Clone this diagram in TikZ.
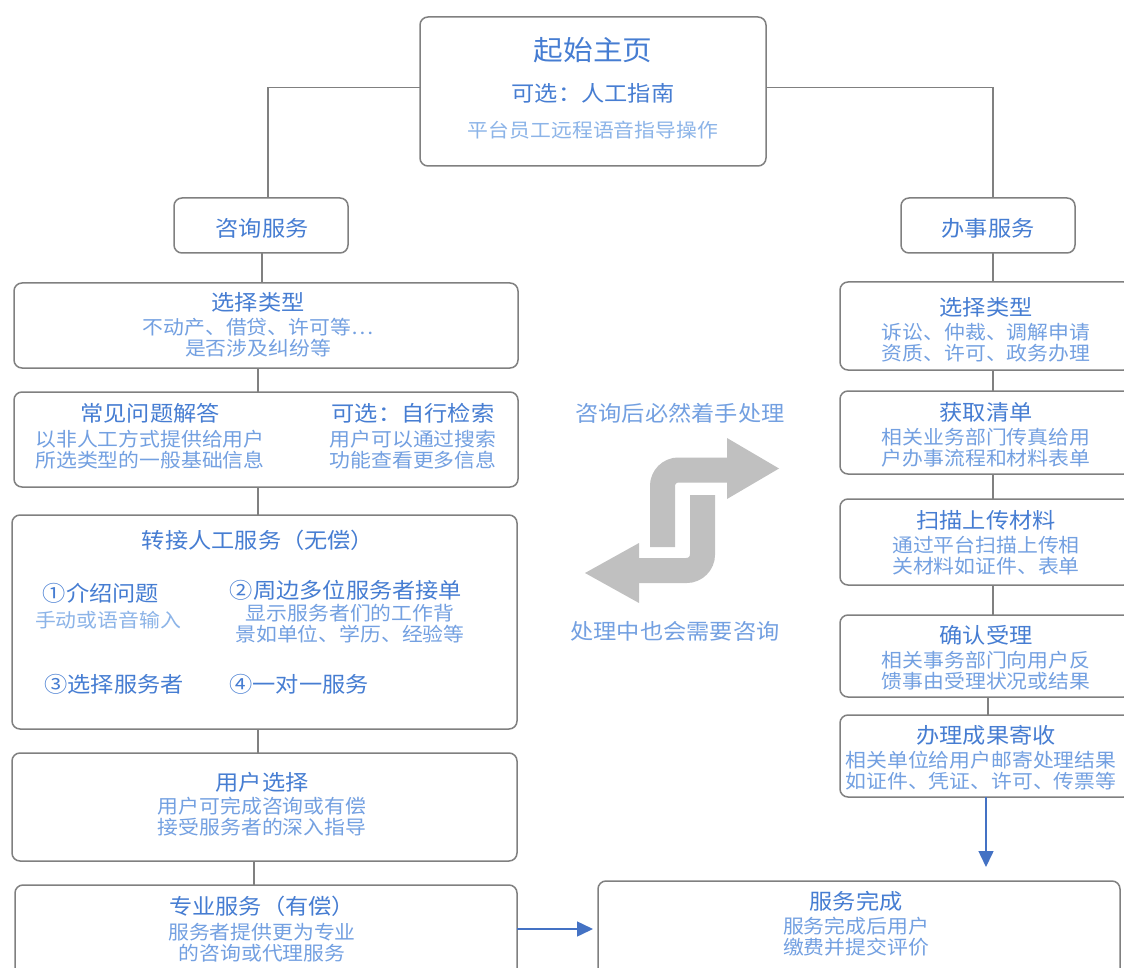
\documentclass[tikz,border=0pt]{standalone}
\usepackage{fontspec}
\setmainfont{Noto Sans CJK SC}[FakeStretch=1.08]
\usetikzlibrary{arrows.meta}
\definecolor{bordercol}{RGB}{128,128,128}
\definecolor{titlecol}{RGB}{70,125,210}
\definecolor{subcol}{RGB}{115,160,225}
\definecolor{palecol}{RGB}{140,180,232}
\definecolor{arrowblue}{RGB}{68,114,196}
\definecolor{sgray}{RGB}{192,192,192}
\newcommand\fTitle{\fontsize{21.5}{24}\selectfont}
\newcommand\fSub{\fontsize{19.3}{21}\selectfont}
\newcommand\fBig{\fontsize{27.5}{30}\selectfont}
\tikzset{
  box/.style={draw=bordercol, line width=1.5pt, rounded corners=8pt, fill=white,
    anchor=north west, inner sep=0pt, outer sep=0pt},
  ttl/.style={text=titlecol, font=\fTitle, inner sep=0pt, align=center},
  sub/.style={text=subcol, font=\fSub, inner sep=0pt, align=center},
  conn/.style={draw=bordercol, line width=1.5pt},
  bluearrow/.style={draw=arrowblue, line width=1.5pt, -{Triangle[length=16pt,width=15pt]}},
  sarrow/.style={draw=sgray, line width=25pt, rounded corners=16pt},
  shead/.style={fill=sgray, draw=none}
}
\begin{document}
\begin{tikzpicture}[x=1pt,y=-1pt]
\useasboundingbox (0,0) rectangle (1124,968);
\clip (0,0) rectangle (1124,968);
\fill[white] (0,0) rectangle (1124,968);

% ---- boxes ----
\node[box, minimum width=346pt, minimum height=149pt] (top) at (420,17) {};
\node[box, minimum width=174pt, minimum height=55pt] (zx) at (174,198) {};
\node[box, minimum width=174pt, minimum height=55pt] (bs) at (901,198) {};

\node[box, minimum width=504pt, minimum height=85pt] (L1) at (14,283) {};
\node[box, minimum width=504pt, minimum height=95pt] (L2) at (14,392) {};
\node[box, minimum width=505pt, minimum height=214pt] (L3) at (12,515) {};
\node[box, minimum width=505pt, minimum height=108pt] (L4) at (12,753) {};
\node[box, minimum width=502pt, minimum height=110pt] (L5) at (15,885) {};

\node[box, minimum width=292pt, minimum height=88pt] (R1) at (840,282) {};
\node[box, minimum width=292pt, minimum height=83pt] (R2) at (840,391) {};
\node[box, minimum width=292pt, minimum height=86pt] (R3) at (840,499) {};
\node[box, minimum width=292pt, minimum height=82pt] (R4) at (840,615) {};
\node[box, minimum width=292pt, minimum height=82pt] (R5) at (840,715) {};

\node[box, minimum width=522pt, minimum height=110pt] (done) at (598,881) {};

% ---- connectors ----
\draw[conn] ([yshift=4pt]top.west) -| ([xshift=7pt]zx.north);
\draw[conn] ([yshift=4pt]top.east) -| ([xshift=5pt]bs.north);
\draw[conn] ([xshift=1pt]zx.south) -- ([xshift=1pt]zx.south |- L1.north);
\draw[conn] ([xshift=-8pt]L1.south) -- ([xshift=-8pt]L1.south |- L2.north);
\draw[conn] ([xshift=-8pt]L2.south) -- ([xshift=-8pt]L2.south |- L3.north);
\draw[conn] ([xshift=-6.5pt]L3.south) -- ([xshift=-6.5pt]L3.south |- L4.north);
\draw[conn] ([xshift=-10.5pt]L4.south) -- ([xshift=-10.5pt]L4.south |- L5.north);
\draw[conn] ([xshift=5pt]bs.south) -- ([xshift=5pt]bs.south |- R1.north);
\draw[conn] ([xshift=7pt]R1.south) -- ([xshift=7pt]R1.south |- R2.north);
\draw[conn] ([xshift=7pt]R2.south) -- ([xshift=7pt]R2.south |- R3.north);
\draw[conn] ([xshift=7pt]R3.south) -- ([xshift=7pt]R3.south |- R4.north);
\draw[conn] ([xshift=2pt]R4.south) -- ([xshift=2pt]R4.south |- R5.north);

\coordinate (vEnd) at (986,867);
\coordinate (hEnd) at (593,929);
\draw[bluearrow] (R5.south -| vEnd) -- (vEnd);
\draw[bluearrow] (L5.east |- hEnd) -- (hEnd);

% ---- texts ----
\node[text=titlecol, font=\fBig, inner sep=0pt] (t1) at (593,50) {起始主页};
\node[ttl] (t2) at (593,93) {可选：人工指南};
\node[text=palecol, font=\fSub, inner sep=0pt] (t3) at (593,130) {平台员工远程语音指导操作};

\node[ttl] (zxT) at (262,228) {咨询服务};
\node[ttl] (bsT) at (988,228) {办事服务};

\node[ttl] (L1T) at (258,302) {选择类型};
\node[sub] (L1S) at (258,338) {不动产、借贷、许可等…\\是否涉及纠纷等};

\node[ttl] (L2T) at (150,413) {常见问题解答};
\node[sub] (L2S) at (150,450) {以非人工方式提供给用户\\所选类型的一般基础信息};
\node[ttl] (L2T2) at (413,413) {可选：自行检索};
\node[sub] (L2S2) at (413,450) {用户可以通过搜索\\功能查看更多信息};

\node[ttl] (L3T) at (258,540) {转接人工服务（无偿）};
\node[ttl] (L3a) at (101,593) {①介绍问题};
\node[sub, text=palecol] (L3aS) at (108,620) {手动或语音输入};
\node[ttl] (L3b) at (346,590) {②周边多位服务者接单};
\node[sub] (L3bS) at (350,624) {显示服务者们的工作背\\景如单位、学历、经验等};
\node[ttl] (L3c) at (114,684) {③选择服务者};
\node[ttl] (L3d) at (299,684) {④一对一服务};

\node[ttl] (L4T) at (262,782) {用户选择};
\node[sub] (L4S) at (262,817) {用户可完成咨询或有偿\\接受服务者的深入指导};

\node[ttl] (L5T) at (262,906) {专业服务（有偿）};
\node[sub] (L5S) at (262,943) {服务者提供更为专业\\的咨询或代理服务};

\node[ttl] (R1T) at (986,307) {选择类型};
\node[sub] (R1S) at (986,343) {诉讼、仲裁、调解申请\\资质、许可、政务办理};
\node[ttl] (R2T) at (986,412) {获取清单};
\node[sub] (R2S) at (986,448) {相关业务部门传真给用\\户办事流程和材料表单};
\node[ttl] (R3T) at (986,520) {扫描上传材料};
\node[sub] (R3S) at (986,556) {通过平台扫描上传相\\关材料如证件、表单};
\node[ttl] (R4T) at (986,635) {确认受理};
\node[sub] (R4S) at (986,671) {相关事务部门向用户反\\馈事由受理状况或结果};
\node[ttl] (R5T) at (986,735) {办理成果寄收};
\node[sub] (R5S) at (981,771) {相关单位给用户邮寄处理结果\\如证件、凭证、许可、传票等};

\node[ttl] (dT) at (856,901) {服务完成};
\node[sub] (dS) at (856,937) {服务完成后用户\\缴费并提交评价};

\node[sub, font=\fTitle] (c1) at (680,413) {咨询后必然着手处理};
\node[sub, font=\fTitle] (c2) at (675,631) {处理中也会需要咨询};

% ---- grey S arrows ----
\draw[sarrow] (662.5,547) -- (662.5,470) -- (729,470);
\fill[shead] (727,438) -- (779,468.5) -- (727,499) -- cycle;
\draw[sarrow] (702.5,495) -- (702.5,570.5) -- (637,570.5);
\fill[shead] (639,543) -- (585,573) -- (639,603) -- cycle;
\end{tikzpicture}
\end{document}
